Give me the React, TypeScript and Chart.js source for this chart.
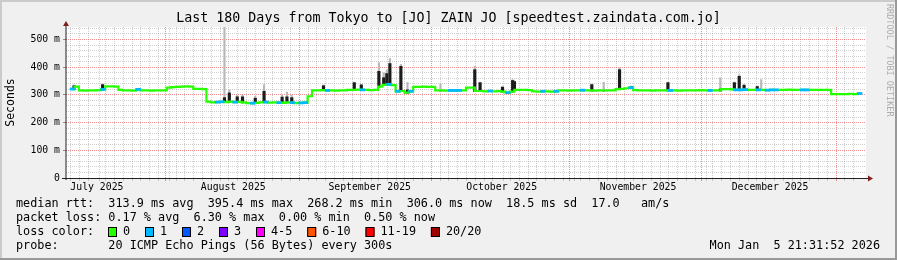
import React, { useEffect, useRef } from "react";
import { Chart, registerables } from "chart.js";

Chart.register(...registerables);

const MONO = '"DejaVu Sans Mono", monospace';

const titleText = "Last 180 Days from Tokyo to [JO] ZAIN JO [speedtest.zaindata.com.jo]";
const yAxisTitle = "Seconds";
const watermark = "RRDTOOL / TOBI OETIKER";

// x axis: days since Jul 9 2025 21:31:52 (180-day window ending Mon Jan 5 21:31:52 2026)
const xMin = 0;
const xMax = 180;
const monthLabels = ["July 2025", "August 2025", "September 2025", "October 2025", "November 2025", "December 2025"];
const monthLabelDays = [6.103, 37.103, 68.103, 98.103, 129.103, 159.103];
const monthStartDays = [22.103, 53.103, 83.103, 114.103, 144.103, 175.103];
const minorGridFirstDay = 1.103;
const minorGridStepDays = 2;

const yMax = 545;
const yMinorStep = 20;
const yMajorValues = [0, 100, 200, 300, 400, 500];
const yTickLabels = ["0", "100 m", "200 m", "300 m", "400 m", "500 m"];

// median rtt per day (ms)
const medianRtt = [
  321, 330, 316, 315, 316, 316, 317, 320, 331, 331,
  330, 318, 316, 316, 315, 320, 316, 316, 315, 316,
  316, 316, 326, 328, 329, 330, 331, 330, 322, 322,
  321, 276, 273, 274, 275, 274, 276, 274, 275, 273,
  270, 270, 271, 273, 274, 272, 273, 272, 271, 273,
  272, 270, 271, 272, 295, 316, 316, 317, 316, 316,
  315, 316, 316, 318, 318, 319, 318, 318, 317, 318,
  330, 336, 338, 335, 313, 314, 308, 313, 329, 329,
  330, 329, 329, 316, 316, 315, 316, 316, 316, 316,
  326, 326, 314, 314, 313, 314, 313, 314, 312, 308,
  312, 318, 318, 318, 317, 313, 312, 313, 313, 312,
  313, 316, 316, 315, 316, 316, 317, 316, 316, 315,
  316, 316, 316, 316, 321, 322, 324, 326, 317, 316,
  316, 316, 315, 316, 316, 316, 316, 316, 315, 316,
  316, 316, 316, 317, 316, 316, 316, 316, 321, 321,
  320, 318, 318, 319, 318, 318, 318, 318, 317, 318,
  318, 318, 318, 319, 318, 318, 318, 318, 318, 318,
  318, 318, 318, 303, 303, 303, 303, 304, 303, 305,
];

// samples with 1/20 packet loss (median drawn blue there)
const lossOneSamples = [0, 7, 15, 33, 34, 37, 41, 44, 47, 50, 52, 53, 58, 66, 72, 74, 77, 86, 87, 88, 95, 99, 107, 110, 116, 127, 136, 145, 151, 152, 153, 156, 158, 159, 160, 166, 167, 179];

// smoke spikes
const spikeDays = [0.9, 7.4, 35.1, 36.2, 38.0, 39.2, 42.1, 44.1, 48.2, 49.3, 50.4, 57.6, 64.6, 66.2, 70.2, 71.3, 72.0, 72.7, 75.2, 76.7, 84.2, 92.0, 93.2, 98.3, 100.6, 101.0, 118.6, 121.3, 124.9, 127.6, 135.9, 147.8, 151.0, 152.1, 153.2, 156.2, 157.1];
const spikeDarkTop = [333, 337, 290, 307, 293, 293, 288, 313, 292, 293, 290, 333, 344, 336, 385, 362, 377, 413, 403, 318, 316, 391, 344, 328, 352, 348, 337, 316, 391, 330, 344, 321, 344, 367, 335, 330, 318];
const spikeGrayTop = [336, 340, 560, 318, 298, 300, 295, 337, 300, 310, 298, 336, 346, 338, 416, 380, 390, 431, 410, 345, 340, 403, 346, 330, 355, 350, 339, 345, 398, 332, 346, 362, 346, 373, 337, 332, 355];

const legendLines = [
  "median rtt:  313.9 ms avg  395.4 ms max  268.2 ms min  306.0 ms now  18.5 ms sd  17.0   am/s",
  "packet loss: 0.17 % avg  6.30 % max  0.00 % min  0.50 % now",
];
const lossColorLabel = "loss color:";
const lossLabels = ["0", "1", "2", "3", "4-5", "6-10", "11-19", "20/20"];
const lossColors = ["#26ff00", "#00b8ff", "#0059ff", "#7e00ff", "#ff00ff", "#ff5500", "#ff0000", "#a10000"];
const probeText = "probe:       20 ICMP Echo Pings (56 Bytes) every 300s";
const timestampText = "Mon Jan  5 21:31:52 2026";

const GRID_MINOR = "rgba(140,140,140,0.42)";
const GRID_MAJOR = "rgba(230,70,70,0.6)";

export default function App() {
  const ref = useRef<HTMLCanvasElement | null>(null);

  useEffect(() => {
    document.body.style.margin = "0";
    const canvas = ref.current;
    if (!canvas) return;
    const baseAt = (d: number) => medianRtt[Math.min(medianRtt.length - 1, Math.floor(d))] - 2;

    const decor = {
      id: "rrdDecor",
      beforeDraw(chart: any) {
        const { ctx, chartArea: a, width, height } = chart;
        ctx.save();
        ctx.fillStyle = "#f0f0f0";
        ctx.fillRect(0, 0, width, height);
        ctx.fillStyle = "#cbcbcb";
        ctx.fillRect(0, 0, width, 2);
        ctx.fillRect(0, 0, 2, height);
        ctx.fillStyle = "#999999";
        ctx.fillRect(0, height - 2, width, 2);
        ctx.fillRect(width - 2, 0, 2, height);
        ctx.fillStyle = "#ffffff";
        ctx.fillRect(a.left, a.top, a.right - a.left, a.bottom - a.top);
        ctx.restore();
      },
      afterDraw(chart: any) {
        const { ctx, chartArea: a, width } = chart;
        ctx.save();
        // axes
        ctx.strokeStyle = "#202020";
        ctx.lineWidth = 1;
        ctx.beginPath();
        ctx.moveTo(a.left, a.bottom + 2);
        ctx.lineTo(a.left, a.top - 2);
        ctx.moveTo(a.left - 4, a.bottom + 0.5);
        ctx.lineTo(a.right + 2, a.bottom + 0.5);
        ctx.stroke();
        ctx.fillStyle = "#7f1f1f";
        ctx.beginPath();
        ctx.moveTo(a.left, a.top - 6);
        ctx.lineTo(a.left - 3, a.top - 1);
        ctx.lineTo(a.left + 3, a.top - 1);
        ctx.closePath();
        ctx.fill();
        ctx.beginPath();
        ctx.moveTo(a.right + 7, a.bottom + 0.5);
        ctx.lineTo(a.right + 2, a.bottom - 2.5);
        ctx.lineTo(a.right + 2, a.bottom + 3.5);
        ctx.closePath();
        ctx.fill();

        // title
        ctx.fillStyle = "#000";
        ctx.textBaseline = "middle";
        ctx.textAlign = "center";
        ctx.font = `13.3px ${MONO}`;
        ctx.fillText(titleText, width / 2, 19);

        // y axis title
        ctx.save();
        ctx.translate(11, (a.top + a.bottom) / 2);
        ctx.rotate(-Math.PI / 2);
        ctx.font = `11.5px ${MONO}`;
        ctx.fillText(yAxisTitle, 0, 0);
        ctx.restore();

        // watermark
        ctx.save();
        ctx.translate(889, 4);
        ctx.rotate(Math.PI / 2);
        ctx.textAlign = "left";
        ctx.fillStyle = "#acacac";
        ctx.font = `8.5px ${MONO}`;
        ctx.fillText(watermark, 0, 0);
        ctx.restore();

        // legend
        ctx.textAlign = "left";
        ctx.font = `11.8px ${MONO}`;
        ctx.fillStyle = "#000";
        const lx = 16;
        ctx.fillText(legendLines[0], lx, 204);
        ctx.fillText(legendLines[1], lx, 218);
        ctx.fillText(lossColorLabel, lx, 232);
        let bx = 108;
        lossLabels.forEach((lab, k) => {
          ctx.fillStyle = lossColors[k];
          ctx.fillRect(bx, 227.5, 9, 9);
          ctx.strokeStyle = "#000";
          ctx.strokeRect(bx + 0.5, 227.5, 8, 9);
          ctx.fillStyle = "#000";
          ctx.fillText(lab, bx + 15, 232);
          bx += 37 + (lab.length - 1) * 7.1;
        });
        ctx.fillText(probeText, lx, 246);
        ctx.textAlign = "right";
        ctx.fillText(timestampText, 880, 246);
        ctx.restore();
      },
    };

    const chart = new Chart(canvas, {
      type: "bar",
      data: {
        datasets: [
          {
            type: "bar",
            label: "median rtt (1 lost)",
            data: lossOneSamples.map((i) => ({ x: i + 0.5, y: [medianRtt[i] - 3.8, medianRtt[i] + 3.8] })),
            backgroundColor: lossColors[1],
            barThickness: 4.5,
            grouped: false,
            order: 0,
          } as any,
          {
            type: "line",
            label: "median rtt",
            data: medianRtt.map((v, i) => ({ x: i + 0.5, y: v })),
            borderColor: lossColors[0],
            borderWidth: 2.2,
            pointRadius: 0,
            stepped: "middle",
            order: 1,
          } as any,
          {
            type: "bar",
            label: "smoke dense",
            data: spikeDays.map((d, k) => ({ x: d, y: [baseAt(d), spikeDarkTop[k]] })),
            backgroundColor: "#1c1c1c",
            barThickness: 2.5,
            grouped: false,
            order: 2,
          } as any,
          {
            type: "bar",
            label: "smoke max",
            data: spikeDays.map((d, k) => ({ x: d, y: [baseAt(d), spikeGrayTop[k]] })),
            backgroundColor: "#b8b8b8",
            barThickness: 1.5,
            grouped: false,
            order: 3,
          } as any,
        ],
      },
      options: {
        responsive: false,
        animation: false,
        devicePixelRatio: 1,
        layout: { padding: { left: 0, right: 31, top: 27, bottom: 62 } },
        plugins: { legend: { display: false }, tooltip: { enabled: false }, title: { display: false } },
        scales: {
          x: {
            type: "linear",
            min: xMin,
            max: xMax,
            afterBuildTicks: (scale: any) => {
              const list: any[] = [];
              for (let d = minorGridFirstDay; d < xMax; d += minorGridStepDays) {
                const isMonth = monthStartDays.some((m) => Math.abs(m - d) < 0.5);
                if (!isMonth) list.push({ value: d, grid: "minor", text: "" });
              }
              monthStartDays.forEach((d) => list.push({ value: d, grid: "major", text: "" }));
              monthLabelDays.forEach((d, k) => list.push({ value: d, grid: "none", text: monthLabels[k] }));
              list.sort((p, q) => p.value - q.value);
              scale.ticks = list;
            },
            afterFit: (scale: any) => {
              scale.height = 20;
            },
            grid: {
              color: (c: any) => (c.tick?.grid === "major" ? GRID_MAJOR : c.tick?.grid === "minor" ? GRID_MINOR : "rgba(0,0,0,0)"),
              tickColor: (c: any) => (c.tick?.grid === "major" ? GRID_MAJOR : c.tick?.grid === "minor" ? GRID_MINOR : "rgba(0,0,0,0)"),
              lineWidth: 1,
              tickLength: 3,
            },
            border: { display: false, dash: [1, 1] },
            ticks: {
              autoSkip: false,
              maxRotation: 0,
              minRotation: 0,
              padding: 1,
              color: "#000",
              font: { family: MONO, size: 9.8 },
              callback: function (_v: any, i: number, ticks: any[]) {
                return ticks[i].text;
              },
            },
          },
          y: {
            type: "linear",
            min: 0,
            max: yMax,
            afterBuildTicks: (scale: any) => {
              const list: any[] = [];
              for (let v = 0; v <= yMax; v += yMinorStep) {
                const k = yMajorValues.indexOf(v);
                list.push({ value: v, grid: k >= 0 ? "major" : "minor", text: k >= 0 ? yTickLabels[k] : "" });
              }
              scale.ticks = list;
            },
            afterFit: (scale: any) => {
              scale.width = 66;
            },
            grid: {
              color: (c: any) => (c.tick?.grid === "major" ? GRID_MAJOR : GRID_MINOR),
              tickColor: (c: any) => (c.tick?.grid === "major" ? "#909090" : "rgba(0,0,0,0)"),
              lineWidth: 1,
              tickLength: 3,
            },
            border: { display: false, dash: [1, 1] },
            ticks: {
              autoSkip: false,
              padding: 3,
              color: "#000",
              font: { family: MONO, size: 9.8 },
              callback: function (_v: any, i: number, ticks: any[]) {
                return ticks[i].text;
              },
            },
          },
        },
      } as any,
      plugins: [decor],
    });

    return () => chart.destroy();
  }, []);

  return (
    <div style={{ position: "fixed", left: 0, top: 0, width: 897, height: 260 }}>
      <canvas ref={ref} width={897} height={260} style={{ display: "block", width: 897, height: 260 }} />
    </div>
  );
}
